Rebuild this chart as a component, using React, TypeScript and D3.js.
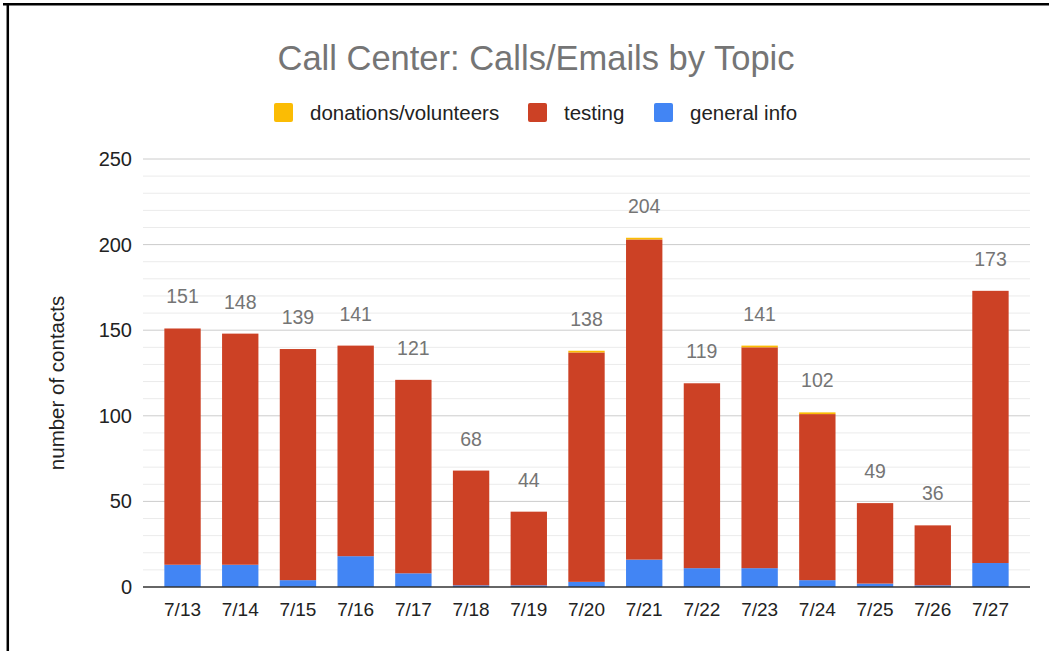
import React from 'react';
import * as d3 from 'd3';

const days = ['7/13', '7/14', '7/15', '7/16', '7/17', '7/18', '7/19', '7/20', '7/21', '7/22', '7/23', '7/24', '7/25', '7/26', '7/27'];
const generalInfo = [13, 13, 4, 18, 8, 1, 1, 3, 16, 11, 11, 4, 2, 1, 14];
const testing = [138, 135, 135, 123, 113, 67, 43, 134, 187, 108, 129, 97, 47, 35, 159];
const donations = [0, 0, 0, 0, 0, 0, 0, 1, 1, 0, 1, 1, 0, 0, 0];
const yTicks = [0, 50, 100, 150, 200, 250];

const seriesKeys = ['general', 'testing', 'donations'];
const seriesColors: Record<string, string> = {
  general: '#4285f4',
  testing: '#cc4125',
  donations: '#fbbc04',
};
const legendItems = [
  { key: 'donations', label: 'donations/volunteers', x: 274 },
  { key: 'testing', label: 'testing', x: 528 },
  { key: 'general', label: 'general info', x: 654 },
];

const W = 1049;
const H = 651;
const margin = { left: 143, right: 19, top: 159, bottom: 64 };
const font = 'Arial, "Liberation Sans", sans-serif';

const App: React.FC = () => {
  const rows = days.map((d, i) => ({
    day: d,
    general: generalInfo[i],
    testing: testing[i],
    donations: donations[i],
    total: generalInfo[i] + testing[i] + donations[i],
  }));

  const x = d3.scaleBand<string>()
    .domain(days)
    .range([margin.left, W - margin.right])
    .paddingInner(0.37)
    .paddingOuter(0.37);

  const y = d3.scaleLinear()
    .domain([0, 250])
    .range([H - margin.bottom, margin.top]);

  const stack = d3.stack<any>().keys(seriesKeys);
  const layers = stack(rows);
  const minorTicks = d3.range(0, 251, 10).filter(v => v % 50 !== 0);

  return (
    <svg width={W} height={H} style={{ position: 'fixed', left: 0, top: 0, background: '#fff' }}>
      <rect x={0} y={0} width={W} height={H} fill="#fff" />
      <line x1={3} x2={W} y1={4.3} y2={4.3} stroke="#000" strokeWidth={2.5} />
      <line x1={7.8} x2={7.8} y1={3} y2={H} stroke="#000" strokeWidth={2.5} />

      <text x={536} y={70} textAnchor="middle" fontFamily={font} fontSize={34.5} fill="#757575">
        Call Center: Calls/Emails by Topic
      </text>

      {legendItems.map(item => (
        <g key={item.key}>
          <rect x={item.x} y={103} width={19} height={19} rx={2} fill={seriesColors[item.key]} />
          <text x={item.x + 36} y={120} fontFamily={font} fontSize={20.5} fill="#222">{item.label}</text>
        </g>
      ))}

      {minorTicks.map(v => (
        <line key={'m' + v} x1={margin.left} x2={W - margin.right} y1={y(v)} y2={y(v)} stroke="#ebebeb" strokeWidth={1} />
      ))}
      {yTicks.filter(v => v > 0).map(v => (
        <line key={'g' + v} x1={margin.left} x2={W - margin.right} y1={y(v)} y2={y(v)} stroke="#cccccc" strokeWidth={1} />
      ))}
      {yTicks.map(v => (
        <text key={'t' + v} x={132} y={y(v) + 7} textAnchor="end" fontFamily={font} fontSize={20} fill="#222">{v}</text>
      ))}

      {layers.map(layer => (
        <g key={layer.key} fill={seriesColors[layer.key]}>
          {layer.map((d, i) => (
            <rect
              key={i}
              x={x(days[i])}
              y={y(d[1])}
              width={x.bandwidth()}
              height={Math.max(0, y(d[0]) - y(d[1]))}
            />
          ))}
        </g>
      ))}

      <line x1={margin.left} x2={W - margin.right} y1={y(0)} y2={y(0)} stroke="#333" strokeWidth={1.5} />

      {rows.map(r => (
        <text
          key={'v' + r.day}
          x={(x(r.day) || 0) + x.bandwidth() / 2}
          y={y(r.total) - 25}
          textAnchor="middle"
          fontFamily={font}
          fontSize={19.5}
          fill="#757575"
        >
          {r.total}
        </text>
      ))}

      {days.map(d => (
        <text
          key={'x' + d}
          x={(x(d) || 0) + x.bandwidth() / 2}
          y={616}
          textAnchor="middle"
          fontFamily={font}
          fontSize={19}
          fill="#222"
        >
          {d}
        </text>
      ))}

      <text
        transform={`translate(64,${383}) rotate(-90)`}
        textAnchor="middle"
        fontFamily={font}
        fontSize={20.5}
        fill="#222"
      >
        number of contacts
      </text>
    </svg>
  );
};

export default App;
